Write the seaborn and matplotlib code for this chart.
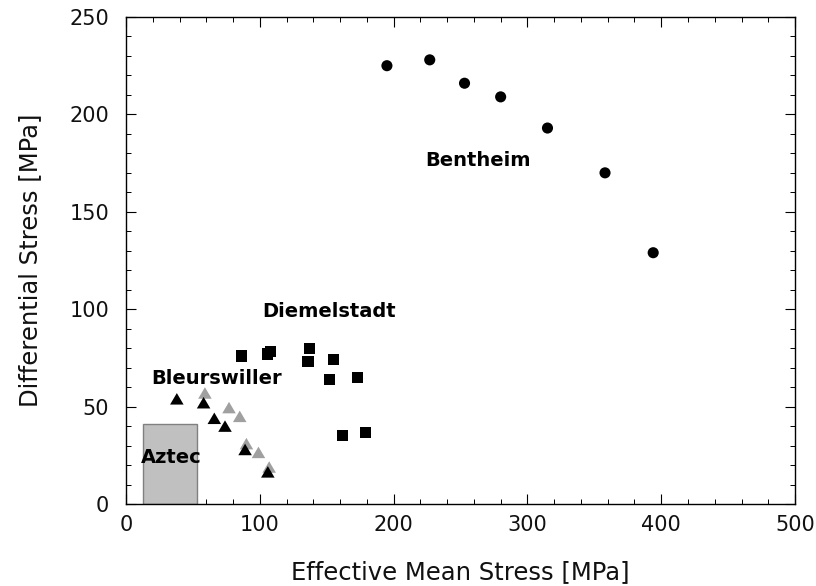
import matplotlib
matplotlib.use("Agg")
import matplotlib.pyplot as plt
from matplotlib.patches import Rectangle
from matplotlib.ticker import MultipleLocator
import seaborn as sns

# Bentheim sandstone
bentheim_x = [195, 227, 253, 280, 315, 358, 394]
bentheim_y = [225, 228, 216, 209, 193, 170, 129]

# Diemelstadt sandstone
diemelstadt_x = [86, 106, 108, 137, 136, 155, 152, 173, 162, 179]
diemelstadt_y = [76, 77, 78.5, 80, 73, 74, 64, 65, 35, 36.5]

# Bleurswiller sandstone (two test series)
bleur_a_x = [59, 77, 85, 90, 99, 107]
bleur_a_y = [57, 49.5, 45, 31, 26.5, 19]
bleur_b_x = [38, 58, 66, 74, 89, 106]
bleur_b_y = [54, 52, 44, 40, 28, 16.5]

# Aztec sandstone range
aztec_x = [12.5, 53]
aztec_y = [0, 41]

labels = ["Bentheim", "Diemelstadt", "Bleurswiller", "Aztec"]
label_x = [263, 152, 68, 34]
label_y = [173.5, 96.2, 61.4, 20.9]

sns.set_style("ticks")
plt.rcParams["font.family"] = ["DejaVu Sans"]

fig = plt.figure(figsize=(8.16, 5.86), dpi=100)
ax = fig.add_axes([0.1544, 0.1399, 0.8199, 0.8311])

ax.add_patch(Rectangle((aztec_x[0], aztec_y[0]), aztec_x[1] - aztec_x[0],
                       aztec_y[1] - aztec_y[0], facecolor="#c0c0c0",
                       edgecolor="#808080", linewidth=1.0, zorder=1))

tri = [(0, 0.85), (-1, -0.85), (1, -0.85)]

sns.scatterplot(x=bleur_a_x, y=bleur_a_y, marker=tri, s=95, color="#a0a0a0",
                edgecolor="none", linewidth=0, ax=ax, zorder=3)
sns.scatterplot(x=bleur_b_x, y=bleur_b_y, marker=tri, s=95, color="black",
                edgecolor="none", linewidth=0, ax=ax, zorder=4)
sns.scatterplot(x=diemelstadt_x, y=diemelstadt_y, marker="s", s=64, color="black",
                edgecolor="none", linewidth=0, ax=ax, zorder=4)
sns.scatterplot(x=bentheim_x, y=bentheim_y, marker="o", s=64, color="black",
                edgecolor="none", linewidth=0, ax=ax, zorder=4)

for t, tx, ty in zip(labels, label_x, label_y):
    ax.text(tx, ty, t, ha="center", va="baseline", fontsize=14,
            fontweight="bold", color="black", zorder=5)

ax.set_xlim(0, 500)
ax.set_ylim(0, 250)
ax.xaxis.set_major_locator(MultipleLocator(100))
ax.xaxis.set_minor_locator(MultipleLocator(20))
ax.yaxis.set_major_locator(MultipleLocator(50))
ax.yaxis.set_minor_locator(MultipleLocator(10))
ax.tick_params(which="both", direction="in", top=True, right=True,
               color="black", labelsize=15, labelcolor="#111111")
ax.tick_params(which="major", length=7, width=0.8)
ax.tick_params(which="minor", length=3.6, width=0.7)
ax.tick_params(axis="x", which="major", pad=8)
ax.tick_params(axis="y", which="major", pad=12)
for sp in ax.spines.values():
    sp.set_visible(True)
    sp.set_linewidth(1.0)
    sp.set_color("black")

ax.set_xlabel("Effective Mean Stress [MPa]", fontsize=17.5, color="#111111", labelpad=18)
ax.set_ylabel("Differential Stress [MPa]", fontsize=17.5, color="#111111", labelpad=20)

fig.savefig("out.png", dpi=100)
